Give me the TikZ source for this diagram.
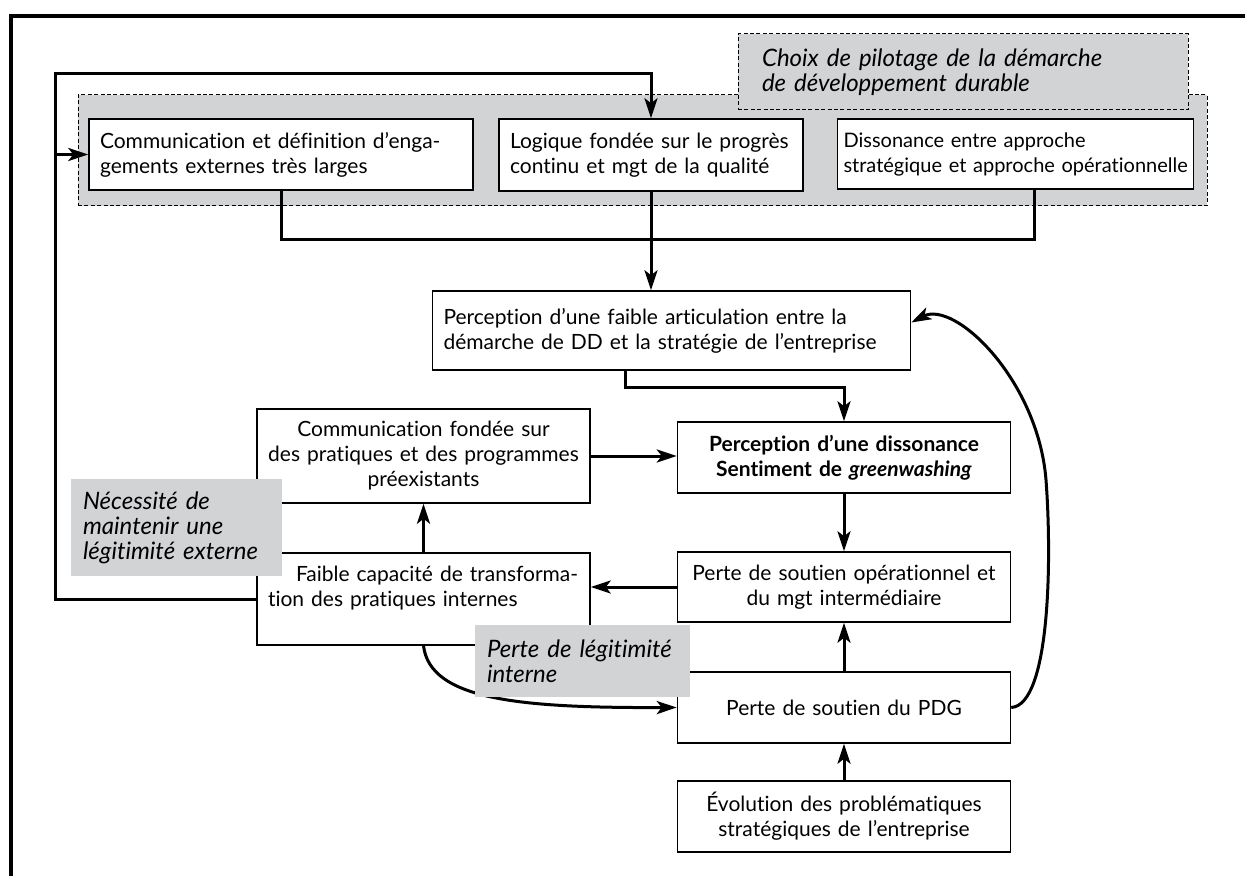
\documentclass[tikz,border=0pt]{standalone}
\usepackage{fontspec}
\setmainfont{Lato}[Ligatures={TeX,NoCommon}]
\usetikzlibrary{arrows.meta,positioning}
\definecolor{grisfond}{RGB}{209,211,212}
\newcommand{\taille}{\fontsize{10.5}{12.5}\selectfont}

\begin{document}
\begin{tikzpicture}[x=0.5pt,y=-0.5pt,>={Stealth[length=10pt,width=6.5pt,inset=2.5pt]},
                    font=\taille]
  \tikzstyle{boite}=[draw,line width=0.75pt,fill=white,inner xsep=5.5pt,inner ysep=3pt,align=left,font=\taille]
  \tikzstyle{centre}=[boite,align=center]
  \tikzstyle{etiquette}=[fill=grisfond,inner xsep=6pt,align=left,font=\fontsize{12}{12.5}\selectfont\itshape]
  \tikzstyle{pointille}=[draw,line width=0.5pt,dash pattern=on 2pt off 1.2pt]
  \tikzstyle{lien}=[line width=1.5pt]

  \useasboundingbox (0,0) rectangle (1245,876);
  \draw[line width=1.6pt] (1245,16) -- (11,16) -- (11,876);

  % zone du pilotage
  \node[pointille,fill=grisfond,minimum width=564.5pt,minimum height=55.5pt] (pilotage) at (642.5,150.5) {};
  \node[etiquette,pointille,text width=201pt,minimum height=38pt,inner xsep=12pt] (choix) at (963,72) {Choix de pilotage de la démarche\\de développement durable};

  \node[boite,text width=181pt,minimum height=35.5pt] (engagement) at (281,154.5) {Communication et définition d’enga-\\gements externes très larges};
  \node[boite,text width=141pt,minimum height=36pt]   (logique)    at (651,155)   {Logique fondée sur le progrès\\continu et mgt de la qualité};
  \node[boite,text width=172pt,minimum height=35pt,inner xsep=3pt,font=\fontsize{10}{12.5}\selectfont] (dissonance) at (1015.5,154) {Dissonance entre approche\\\mbox{stratégique et approche opérationnelle}};

  \node[boite,text width=228pt,minimum height=39.5pt] (articulation) at (671.5,330.5) {Perception d’une faible articulation entre la\\démarche de DD et la stratégie de l’entreprise};
  \node[centre,text width=155.5pt,minimum height=35.5pt,font=\taille\bfseries] (greenwashing) at (844,457.5) {Perception d’une dissonance\\Sentiment de \textit{greenwashing}};
  \node[centre,text width=155.5pt,minimum height=35pt]   (operationnel) at (844,587)   {Perte de soutien opérationnel et\\du mgt intermédiaire};
  \node[centre,text width=155.5pt,minimum height=35.5pt] (pdg)          at (844,707.5) {Perte de soutien du PDG};
  \node[centre,text width=155.5pt,minimum height=35.5pt] (evolution)    at (844,816.5) {Évolution des problématiques\\stratégiques de l’entreprise};
  \node[centre,text width=155.5pt,minimum height=47pt]   (pratiques)    at (423.5,456) {Communication fondée sur\\des pratiques et des programmes\\préexistants};
  \node[boite,text width=155.5pt,minimum height=46pt]    (transformation) at (423.5,599) {\hspace*{14pt}Faible capacité de transforma-\\tion des pratiques internes\\\mbox{}};

  \coordinate (boucleBas)  at (55,599);
  \coordinate (boucleHaut) at (55,74);
  \coordinate (jonction)   at (1034,240);
  \coordinate (coude)      at (625,388);

  \draw[lien,->] (transformation.west) -- (boucleBas) -- (boucleHaut) -| (logique.north);
  \draw[lien,->] (boucleBas |- engagement.west) -- (engagement.west);
  \draw[lien] (engagement.south) |- (jonction) -- (jonction |- dissonance.south);
  \draw[lien,->] (logique.south) -- (logique.south |- articulation.north);
  \draw[lien,->] (coude |- articulation.south) -- (coude) -| (greenwashing.north);
  \draw[lien,->] (greenwashing.south) -- (operationnel.north);
  \draw[lien,->] (operationnel.west) -- (operationnel.west -| transformation.east);
  \draw[lien,->] (pratiques.east) -- (pratiques.east -| greenwashing.west);
  \draw[lien,->] (transformation.north) -- (pratiques.south);
  \draw[lien,->] (pdg.north) -- (operationnel.south);
  \draw[lien,->] (evolution.north) -- (pdg.south);
  \draw[lien,->] (transformation.south) .. controls (430,700) and (520,708) .. (pdg.west);
  \draw[lien,->] (pdg.east) .. controls (1050,705) and (1052,560) .. (1046,480)
                 .. controls (1038,380) and (955,300) .. ([yshift=4pt]articulation.east);

  % etiquettes grises
  \node[etiquette,text width=93.5pt,minimum height=48.5pt] (externe) at (176.5,527.5) {Nécessité de\\maintenir une\\légitimité externe};
  \node[etiquette,text width=95.5pt,minimum height=36pt]   (interne) at (582.5,661)   {Perte de légitimité\\interne};
\end{tikzpicture}
\end{document}
